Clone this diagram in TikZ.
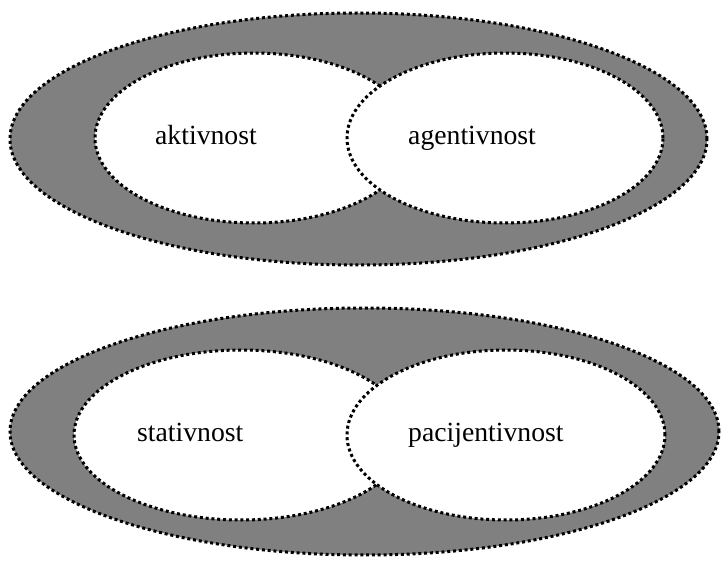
\documentclass[tikz,border=0pt]{standalone}
\usepackage{fontspec}
\setmainfont{Liberation Serif}
\usetikzlibrary{shapes.geometric}
\definecolor{ringgray}{RGB}{128,128,128}
\tikzset{
  dotline/.style={line width=3pt, dash pattern=on 3pt off 2.8pt, draw=black},
  outerell/.style={ellipse, dotline, fill=ringgray, inner sep=0pt},
  innerell/.style={ellipse, dotline, fill=white, inner sep=0pt},
  lbl/.style={anchor=base west, inner sep=0pt, font=\fontsize{27.7}{33}\selectfont}
}
\begin{document}
\begin{tikzpicture}[x=1pt,y=-1pt]
\useasboundingbox[fill=white] (0,0) rectangle (721,561);
% top group
\node[outerell, minimum width=697pt, minimum height=252pt] (o1) at (358.5,139) {};
\node[innerell, minimum width=318pt, minimum height=170pt] (a1) at (254,138) {};
\node[innerell, minimum width=316pt, minimum height=170pt] (b1) at (505,138) {};
\node[lbl] (ta) at (155,145) {aktivnost};
\node[lbl] (tb) at (408,145) {agentivnost};
% bottom group
\node[outerell, minimum width=709pt, minimum height=247pt] (o2) at (364.5,431.5) {};
\node[innerell, minimum width=334pt, minimum height=170pt] (a2) at (241,435) {};
\node[innerell, minimum width=318pt, minimum height=170pt] (b2) at (506,435) {};
\node[lbl] (tc) at (137,442) {stativnost};
\node[lbl] (td) at (408,442) {pacijentivnost};
\end{tikzpicture}
\end{document}
